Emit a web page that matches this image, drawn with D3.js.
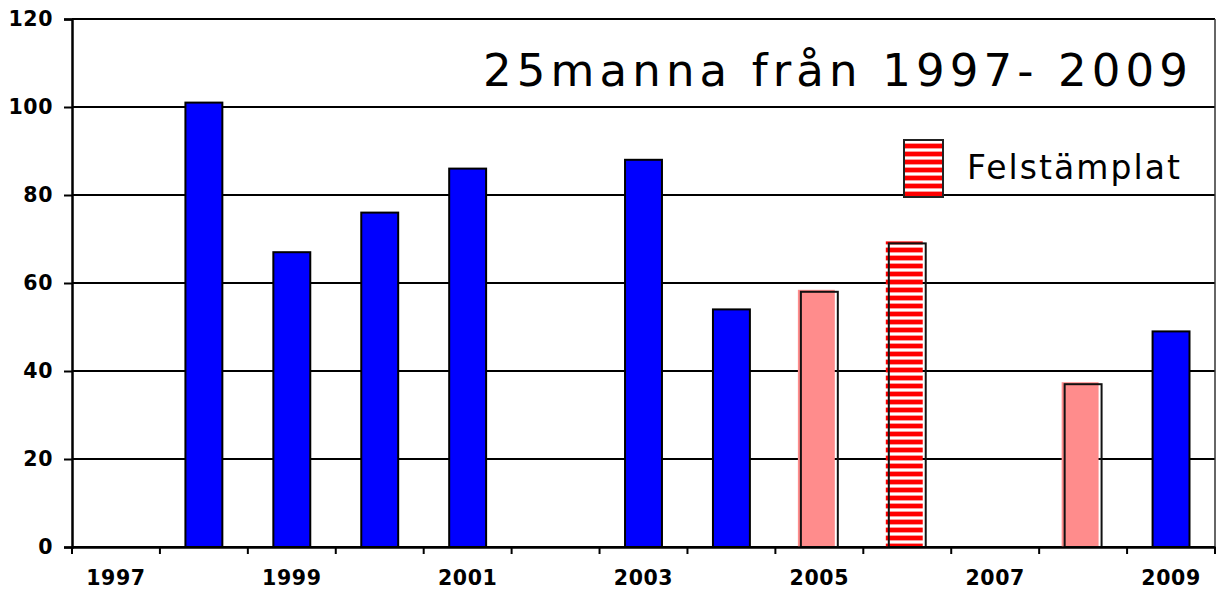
<!DOCTYPE html>
<html>
<head>
<meta charset="utf-8">
<script src="https://cdn.jsdelivr.net/npm/d3@7"></script>
<style>
  body { margin: 0; background: #fff; }
  svg { display: block; }
  .axis text { font-family: "DejaVu Sans", Verdana, sans-serif; font-weight: bold; font-size: 20.5px; fill: #000; letter-spacing: 0.6px; }
</style>
</head>
<body>
<div id="chart"></div>
<script>
// data
const years = ["1997", "1998", "1999", "2000", "2001", "2002", "2003", "2004", "2005", "2006", "2007", "2008", "2009"];
const normal = [null, 101, 67, 76, 86, null, 88, 54, null, null, null, null, 49];
const pale = [null, null, null, null, null, null, null, null, 58, null, null, 37, null];
const felstamplat = [null, null, null, null, null, null, null, null, null, 69, null, null, null];
const yTicks = [0, 20, 40, 60, 80, 100, 120];
const xLabels = ["1997", "1999", "2001", "2003", "2005", "2007", "2009"];
const title = "25manna från 1997- 2009";
const legendLabel = "Felstämplat";

const W = 1217, H = 591;
const m = {left: 72, right: 2, top: 19, bottom: 44};

const svg = d3.select("#chart").append("svg")
    .attr("width", W)
    .attr("height", H);

const defs = svg.append("defs");
const pat = defs.append("pattern")
    .attr("id", "stripes")
    .attr("patternUnits", "userSpaceOnUse")
    .attr("width", 8)
    .attr("height", 8);
pat.append("rect").attr("width", 8).attr("height", 8).attr("fill", "#fff");
pat.append("rect").attr("y", 0).attr("width", 8).attr("height", 4).attr("fill", "#ff0000");
pat.append("rect").attr("y", 4).attr("width", 8).attr("height", 1).attr("fill", "#ff9a9a");
pat.append("rect").attr("y", 7).attr("width", 8).attr("height", 1).attr("fill", "#ff9a9a");

const x = d3.scaleBand()
    .domain(years)
    .range([m.left, W - m.right]);

const y = d3.scaleLinear()
    .domain([0, 120])
    .range([H - m.bottom, m.top]);

const barW = x.bandwidth() * 0.42;
const barX = yr => x(yr) + (x.bandwidth() - barW) / 2;

// grid
svg.append("g")
    .selectAll("line")
    .data(yTicks)
    .join("line")
    .attr("x1", m.left)
    .attr("x2", W - m.right)
    .attr("y1", d => y(d))
    .attr("y2", d => y(d))
    .attr("stroke", "#000")
    .attr("stroke-width", 2);

// right frame
svg.append("line")
    .attr("x1", W - m.right).attr("x2", W - m.right)
    .attr("y1", y(120)).attr("y2", y(0))
    .attr("stroke", "#333")
    .attr("stroke-width", 1.5);

const toRows = arr => years.map((yr, i) => ({year: yr, value: arr[i]})).filter(d => d.value != null);

// blue bars
svg.append("g")
    .selectAll("rect")
    .data(toRows(normal))
    .join("rect")
    .attr("x", d => barX(d.year))
    .attr("y", d => y(d.value))
    .attr("width", barW)
    .attr("height", d => y(0) - y(d.value))
    .attr("fill", "#0000ff")
    .attr("stroke", "#000")
    .attr("stroke-width", 2);

// offset fill + outline, like the original
function offsetBars(rows, fill) {
    const g = svg.append("g");
    g.selectAll("rect.fill")
        .data(rows)
        .join("rect")
        .attr("class", "fill")
        .attr("x", d => barX(d.year) - 3)
        .attr("y", d => y(d.value) - 2)
        .attr("width", barW)
        .attr("height", d => y(0) - y(d.value) + 2)
        .attr("fill", fill);
    g.selectAll("rect.outline")
        .data(rows)
        .join("rect")
        .attr("class", "outline")
        .attr("x", d => barX(d.year))
        .attr("y", d => y(d.value))
        .attr("width", barW)
        .attr("height", d => y(0) - y(d.value))
        .attr("fill", "none")
        .attr("stroke", "#111")
        .attr("stroke-width", 2);
}
offsetBars(toRows(pale), "#ff8c8c");
offsetBars(toRows(felstamplat), "url(#stripes)");

// axes
const yAxis = svg.append("g")
    .attr("class", "axis")
    .attr("transform", `translate(${m.left},0)`)
    .call(d3.axisLeft(y).tickValues(yTicks).tickSize(8).tickPadding(11));
yAxis.select(".domain").attr("stroke", "#000").attr("stroke-width", 2.5);
yAxis.selectAll(".tick line").attr("stroke", "#000").attr("stroke-width", 2);

const xAxis = svg.append("g")
    .attr("class", "axis")
    .attr("transform", `translate(0,${y(0)})`)
    .call(d3.axisBottom(x).tickValues(xLabels).tickSize(0).tickPadding(23));
xAxis.select(".domain").attr("stroke", "#000").attr("stroke-width", 2.5);

// category boundary ticks
svg.append("g")
    .selectAll("line")
    .data(years)
    .join("line")
    .attr("x1", d => x(d))
    .attr("x2", d => x(d))
    .attr("y1", y(0))
    .attr("y2", y(0) + 7)
    .attr("stroke", "#000")
    .attr("stroke-width", 2);
svg.append("line")
    .attr("x1", W - m.right).attr("x2", W - m.right)
    .attr("y1", y(0)).attr("y2", y(0) + 7)
    .attr("stroke", "#000").attr("stroke-width", 2);

// title
svg.append("text")
    .attr("x", 483)
    .attr("y", 86)
    .attr("font-family", "'DejaVu Sans', sans-serif")
    .attr("font-size", 45)
    .attr("textLength", 705)
    .attr("lengthAdjust", "spacing")
    .attr("fill", "#000")
    .text(title);

// legend
svg.append("rect")
    .attr("x", 904)
    .attr("y", 140)
    .attr("width", 39)
    .attr("height", 57)
    .attr("fill", "url(#stripes)")
    .attr("stroke", "#222")
    .attr("stroke-width", 2);
svg.append("text")
    .attr("x", 967)
    .attr("y", 179)
    .attr("font-family", "'DejaVu Sans', sans-serif")
    .attr("font-size", 33)
    .attr("textLength", 213)
    .attr("lengthAdjust", "spacing")
    .attr("fill", "#000")
    .text(legendLabel);
</script>
</body>
</html>
